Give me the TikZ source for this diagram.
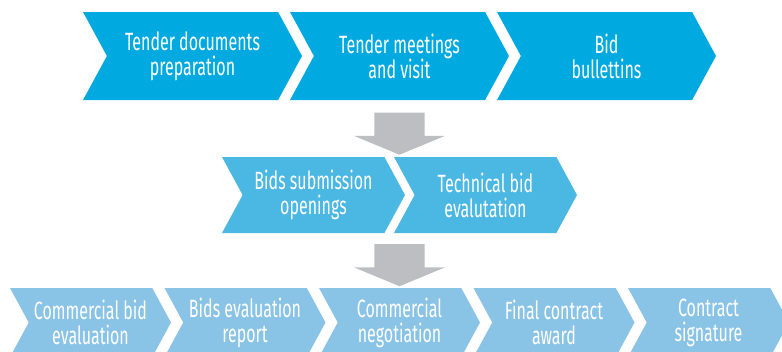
\documentclass[tikz,border=0pt]{standalone}
\usepackage{fontspec}
\setmainfont[FakeStretch=0.64]{Fira Sans}
\usetikzlibrary{shapes.symbols,shapes.arrows,positioning}

\definecolor{rowone}{RGB}{0,170,224}
\definecolor{rowtwo}{RGB}{75,183,227}
\definecolor{rowthree}{RGB}{137,196,230}
\definecolor{pushgray}{RGB}{188,190,193}

\tikzset{
    chev/.style={signal, signal from=west, signal to=east, signal pointer angle=123,
        draw=none, inner sep=0pt, text=white, align=center,
        font=\fontsize{25}{25}\selectfont},
    chevone/.style={chev, fill=rowone, minimum width=219pt, minimum height=88pt},
    chevtwo/.style={chev, fill=rowtwo, minimum width=183pt, minimum height=76pt},
    chevthree/.style={chev, fill=rowthree, minimum width=161pt, minimum height=69pt},
    pushdown/.style={single arrow, fill=pushgray, draw=none, shape border rotate=270,
        minimum height=42pt, text width=50pt, single arrow head extend=20.5pt,
        single arrow tip angle=135, inner sep=0pt}
}

\begin{document}
\begin{tikzpicture}[x=1pt,y=-1pt]
    \useasboundingbox (0,0) rectangle (782,351);

    % first row
    \node[chevone] (prep) at (192.5,56) {Tender documents\\preparation};
    \node[chevone] (visit) at (399.5,56) {Tender meetings\\and visit};
    \node[chevone] (bulletin) at (606.5,56) {Bid\\bullettins};

    \node[pushdown] (pushA) at (399.5,128.5) {};

    % second row
    \node[chevtwo] (open) at (313.5,195) {Bids submission\\openings};
    \node[chevtwo] (tech) at (485.5,195) {Technical bid\\evalutation};

    \node[pushdown] (pushB) at (399.5,260) {};

    % third row
    \node[chevthree] (comm) at (90.5,322.5) {Commercial bid\\evaluation};
    \node[chevthree] (report) at (245,322.5) {Bids evaluation\\report};
    \node[chevthree] (nego) at (399.5,322.5) {Commercial\\negotiation};
    \node[chevthree] (award) at (554,322.5) {Final contract\\award};
    \node[chevthree] (sign) at (708.5,322.5) {Contract\\signature};
\end{tikzpicture}
\end{document}
